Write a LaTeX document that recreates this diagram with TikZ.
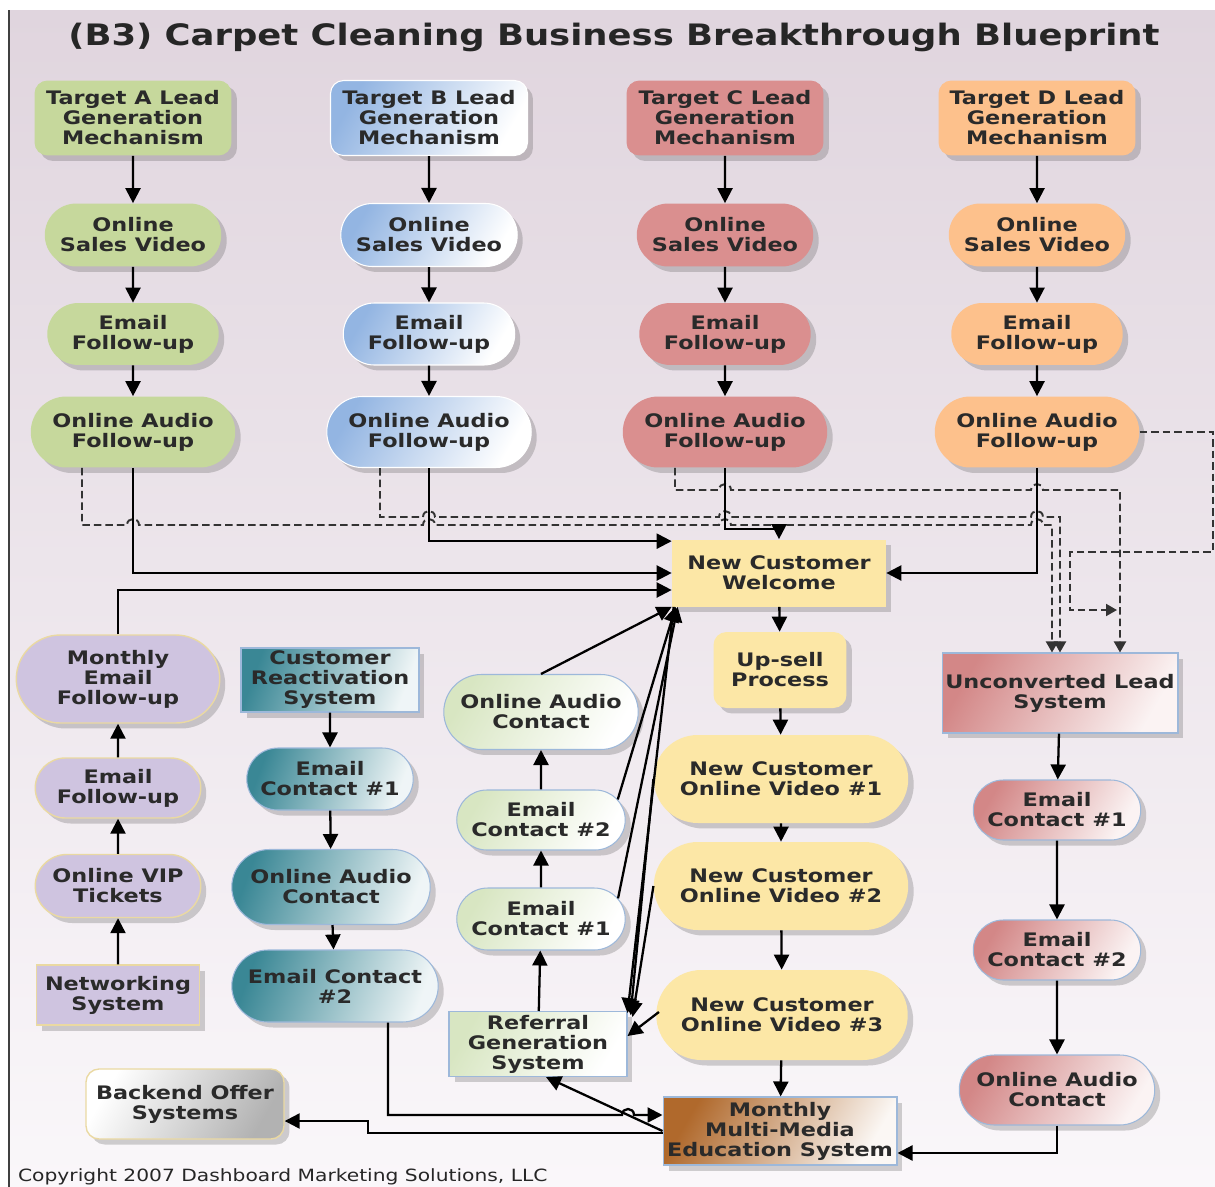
\documentclass[tikz,border=0pt]{standalone}
\usepackage{fontspec}
\newfontfamily\boxfont[FakeStretch=1.2]{DejaVu Sans}
\usetikzlibrary{arrows.meta,shapes.misc,shadows,calc}

\definecolor{inkdark}{HTML}{2A2A2A}
\definecolor{leadA}{HTML}{C6D89C}
\definecolor{leadB}{HTML}{93B5E2}
\definecolor{leadC}{HTML}{DA8F8F}
\definecolor{leadD}{HTML}{FDC18C}
\definecolor{welcomeY}{HTML}{FCE7A6}
\definecolor{vipP}{HTML}{CFC4E0}
\definecolor{vipEdge}{HTML}{EAD9A2}
\definecolor{reactT}{HTML}{3A8795}
\definecolor{referG}{HTML}{D8E6C2}
\definecolor{uclR}{HTML}{D38787}
\definecolor{mmmB}{HTML}{B0692C}
\definecolor{backG}{HTML}{B2B2B2}
\definecolor{edgeBlue}{HTML}{9DB8DA}
\definecolor{bgTop}{HTML}{E0D5DE}
\definecolor{bgMid}{HTML}{EBE5EB}
\definecolor{bgBot}{HTML}{FAF7FA}

\begin{document}
\begin{tikzpicture}[x=0.02cm, y=-0.02cm,
	every node/.style={font=\boxfont\bfseries\fontsize{10.6}{11.4}\selectfont, text=inkdark, align=center, inner sep=1pt},
	boxshadow/.style={drop shadow={shadow xshift=1.1mm, shadow yshift=-1.1mm, opacity=0.25, fill=black!70}},
	leadbox/.style={rectangle, rounded corners=2.6mm, minimum width=3.94cm, minimum height=1.5cm, boxshadow},
	pill/.style={rounded rectangle, boxshadow},
	sqbox/.style={rectangle, boxshadow},
	roundbox/.style={rectangle, rounded corners=2.6mm, boxshadow},
	vidpill/.style={pill, minimum width=3.6cm, minimum height=1.26cm},
	mailpill/.style={pill, minimum width=3.5cm, minimum height=1.24cm},
	audiopill/.style={pill, minimum width=4.16cm, minimum height=1.42cm},
	fillA/.style={fill=leadA},
	fillB/.style={left color=leadB, right color=white, shading angle=60, draw=white, line width=0.6pt},
	fillC/.style={fill=leadC},
	fillD/.style={fill=leadD},
	fillY/.style={fill=welcomeY},
	fillP/.style={fill=vipP, draw=vipEdge, line width=0.8pt},
	fillT/.style={left color=reactT, right color=reactT!8, shading angle=70, draw=edgeBlue, line width=0.6pt},
	fillG/.style={left color=referG, right color=white, shading angle=60, draw=edgeBlue, line width=0.6pt},
	fillR/.style={left color=uclR, right color=uclR!10, shading angle=60, draw=edgeBlue, line width=0.6pt},
	link/.style={draw=black, line width=1.3pt, -{Triangle[length=3mm,width=3mm]}},
	dlink/.style={draw=black!80, line width=1.1pt, dash pattern=on 1.5mm off 0.8mm, -{Triangle[length=2.2mm,width=2.4mm]}}
]
	\useasboundingbox (0,0) rectangle (1215,1187);
	%Background and left rule
	\fill[white] (0,0) rectangle (1215,1187);
	\shade[top color=bgTop, middle color=bgMid, bottom color=bgBot] (10,10) rectangle (1215,1187);
	\draw[line width=1.2pt, black!75] (9,10) -- (9,1187);

	%Title
	\node[font=\boxfont\bfseries\fontsize{16.8}{20}\selectfont, text=black!85] (title) at (614,37) {(B3) Carpet Cleaning Business Breakthrough Blueprint};

	%Target A column
	\node[leadbox, fillA] (ta) at (133,118) {Target A Lead\\Generation\\Mechanism};
	\node[vidpill, fillA] (tavid) at (133,235) {Online\\Sales Video};
	\node[mailpill, fillA] (tamail) at (133,334) {Email\\Follow-up};
	\node[audiopill, fillA] (taaudio) at (133,432) {Online Audio\\Follow-up};
	%Target B column
	\node[leadbox, fillB] (tb) at (429,118) {Target B Lead\\Generation\\Mechanism};
	\node[vidpill, fillB] (tbvid) at (429,235) {Online\\Sales Video};
	\node[mailpill, fillB] (tbmail) at (429,334) {Email\\Follow-up};
	\node[audiopill, fillB] (tbaudio) at (429,432) {Online Audio\\Follow-up};
	%Target C column
	\node[leadbox, fillC] (tc) at (725,118) {Target C Lead\\Generation\\Mechanism};
	\node[vidpill, fillC] (tcvid) at (725,235) {Online\\Sales Video};
	\node[mailpill, fillC] (tcmail) at (725,334) {Email\\Follow-up};
	\node[audiopill, fillC] (tcaudio) at (725,432) {Online Audio\\Follow-up};
	%Target D column
	\node[leadbox, fillD] (td) at (1037,118) {Target D Lead\\Generation\\Mechanism};
	\node[vidpill, fillD] (tdvid) at (1037,235) {Online\\Sales Video};
	\node[mailpill, fillD] (tdmail) at (1037,334) {Email\\Follow-up};
	\node[audiopill, fillD] (tdaudio) at (1037,432) {Online Audio\\Follow-up};

	%New customer column
	\node[sqbox, fillY, minimum width=4.28cm, minimum height=1.34cm] (welcome) at (779,573) {New Customer\\Welcome};
	\node[roundbox, fillY, minimum width=2.66cm, minimum height=1.52cm] (upsell) at (780,670) {Up-sell\\Process};
	\node[pill, fillY, minimum width=5.16cm, minimum height=1.76cm] (nv1) at (781,779) {New Customer\\Online Video \#1};
	\node[pill, fillY, minimum width=5.16cm, minimum height=1.76cm] (nv2) at (781,886) {New Customer\\Online Video \#2};
	\node[pill, fillY, minimum width=5.1cm, minimum height=1.8cm] (nv3) at (782,1015) {New Customer\\Online Video \#3};
	\node[sqbox, left color=mmmB, right color=mmmB!5, shading angle=60, draw=edgeBlue, line width=0.6pt, minimum width=4.68cm, minimum height=1.36cm] (mmm) at (780,1131) {Monthly\\Multi-Media\\Education System};

	%Unconverted lead column
	\node[sqbox, fillR, minimum width=4.72cm, minimum height=1.6cm] (ucl) at (1060,693) {Unconverted Lead\\System};
	\node[pill, fillR, minimum width=3.42cm, minimum height=1.2cm] (uec1) at (1057,810) {Email\\Contact \#1};
	\node[pill, fillR, minimum width=3.42cm, minimum height=1.2cm] (uec2) at (1057,950) {Email\\Contact \#2};
	\node[pill, fillR, minimum width=3.98cm, minimum height=1.4cm] (uaudio) at (1057,1090) {Online Audio\\Contact};

	%Networking column
	\node[pill, fillP, minimum width=4.14cm, minimum height=1.76cm] (pmef) at (118,679) {Monthly\\Email\\Follow-up};
	\node[pill, fillP, minimum width=3.38cm, minimum height=1.2cm] (pef) at (118,788) {Email\\Follow-up};
	\node[pill, fillP, minimum width=3.38cm, minimum height=1.26cm] (pvip) at (118,886) {Online VIP\\Tickets};
	\node[sqbox, fillP, minimum width=3.26cm, minimum height=1.2cm] (pnet) at (118,995) {Networking\\System};

	%Reactivation column
	\node[sqbox, fillT, minimum width=3.56cm, minimum height=1.28cm] (crs) at (330,680) {Customer\\Reactivation\\System};
	\node[pill, fillT, minimum width=3.4cm, minimum height=1.24cm] (tec1) at (330,779) {Email\\Contact \#1};
	\node[pill, fillT, minimum width=4.04cm, minimum height=1.5cm] (toac) at (331,887) {Online Audio\\Contact};
	\node[pill, fillT, minimum width=4.2cm, minimum height=1.44cm] (tec2) at (335,986) {Email Contact\\\#2};

	%Referral column
	\node[pill, fillG, minimum width=3.96cm, minimum height=1.5cm] (goac) at (541,712) {Online Audio\\Contact};
	\node[pill, fillG, minimum width=3.44cm, minimum height=1.2cm] (gec2) at (541,820) {Email\\Contact \#2};
	\node[pill, fillG, minimum width=3.44cm, minimum height=1.24cm] (gec1) at (541,919) {Email\\Contact \#1};
	\node[sqbox, fillG, minimum width=3.56cm, minimum height=1.3cm] (referral) at (538,1044) {Referral\\Generation\\System};

	%Backend offer
	\node[roundbox, left color=white, right color=backG, shading angle=60, draw=vipEdge, line width=0.8pt, minimum width=3.96cm, minimum height=1.4cm] (backend) at (185,1104) {Backend Offer\\Systems};

	%Copyright line
	\node[font=\boxfont\fontsize{9.6}{11}\selectfont, text=black!85, anchor=west] (copy) at (16,1177) {Copyright 2007 Dashboard Marketing Solutions, LLC};

	%Lead columns, top to bottom
	\draw[link] (ta) -- (tavid);
	\draw[link] (tavid) -- (tamail);
	\draw[link] (tamail) -- (taaudio);
	\draw[link] (tb) -- (tbvid);
	\draw[link] (tbvid) -- (tbmail);
	\draw[link] (tbmail) -- (tbaudio);
	\draw[link] (tc) -- (tcvid);
	\draw[link] (tcvid) -- (tcmail);
	\draw[link] (tcmail) -- (tcaudio);
	\draw[link] (td) -- (tdvid);
	\draw[link] (tdvid) -- (tdmail);
	\draw[link] (tdmail) -- (tdaudio);

	%Unconverted leads (dashed, with hops)
	\draw[dlink] ($(taaudio.south)+(-51,0)$) |- (127,525)
		.. controls (127,517) and (139,517) .. (139,525) -- (423,525)
		.. controls (423,517) and (435,517) .. (435,525) -- (719,525)
		.. controls (719,517) and (731,517) .. (731,525) -- (1031,525)
		.. controls (1031,517) and (1043,517) .. (1043,525) -| ($(ucl.north)+(-8,0)$);
	\draw[dlink] ($(tbaudio.south)+(-49,0)$) |- (423,517)
		.. controls (423,509) and (435,509) .. (435,517) -- (719,517)
		.. controls (719,509) and (731,509) .. (731,517) -- (1031,517)
		.. controls (1031,509) and (1043,509) .. (1043,517) -| (ucl.north);
	\draw[dlink] ($(tcaudio.south)+(-50,0)$) |- (719,490)
		.. controls (719,482) and (731,482) .. (731,490) -- (1031,490)
		.. controls (1031,482) and (1043,482) .. (1043,490) -| ($(ucl.north)+(60,0)$);
	\coordinate (cdrop) at (1117,610);
	\draw[dlink] (tdaudio.east) -| (1213,552) -| (1070,610) -- (cdrop);

	%Into the welcome box
	\draw[link] (taaudio.south) |- (welcome.west);
	\draw[link] (tbaudio.south) |- ($(welcome.north west)+(0,2)$);
	\draw[link] (tcaudio.south) -- ++(0,61) -| (welcome.north);
	\draw[link] (tdaudio.south) |- (welcome.east);
	\draw[link] (pmef.north) |- ($(welcome.west)+(0,17)$);

	%New customer sequence
	\draw[link] (welcome) -- (upsell);
	\draw[link] (upsell) -- (nv1);
	\draw[link] (nv1) -- (nv2);
	\draw[link] (nv2) -- (nv3);
	\draw[link] (nv3) -- (mmm);

	%Unconverted lead sequence
	\draw[link] (ucl) -- (uec1);
	\draw[link] (uec1) -- (uec2);
	\draw[link] (uec2) -- (uaudio);
	\draw[link] (uaudio.south) |- ($(mmm.east)+(0,22)$);

	%Networking sequence
	\draw[link] (pnet) -- (pvip);
	\draw[link] (pvip) -- (pef);
	\draw[link] (pef) -- (pmef);

	%Reactivation sequence
	\draw[link] (crs) -- (tec1);
	\draw[link] (tec1) -- (toac);
	\draw[link] (toac) -- (tec2);
	\draw[link] ($(tec2.south)+(53,0)$) |- (622,1115)
		.. controls (622,1107) and (634,1107) .. (634,1115) -- ($(mmm.west)+(0,-16)$);

	%Referral sequence
	\draw[link] (referral) -- (gec1);
	\draw[link] (gec1) -- (gec2);
	\draw[link] (gec2) -- (goac);
	\draw[link] (goac.north) -- (welcome.south west);
	\draw[link] (gec2.15) -- ($(welcome.south west)+(4,0)$);
	\draw[link] (gec1.15) -- ($(welcome.south west)+(6,0)$);
	\draw[link] ($(welcome.south west)+(2,0)$) -- ($(referral.north east)+(0,2)$);
	\draw[link] (nv1.west) -- ($(referral.north east)+(3,4)$);
	\draw[link] (nv2.west) -- ($(referral.north east)+(5,6)$);
	\draw[link] ($(nv3.west)+(3,-3)$) -- ($(referral.east)+(0,-8)$);

	%Monthly education outputs
	\draw[link] (mmm.west) -- ($(referral.south)+(8,0)$);
	\draw[link] ($(mmm.west)+(0,2)$) -| ($(backend.east)+(83,17)$) -- ($(backend.east)+(0,17)$);
\end{tikzpicture}
\end{document}
